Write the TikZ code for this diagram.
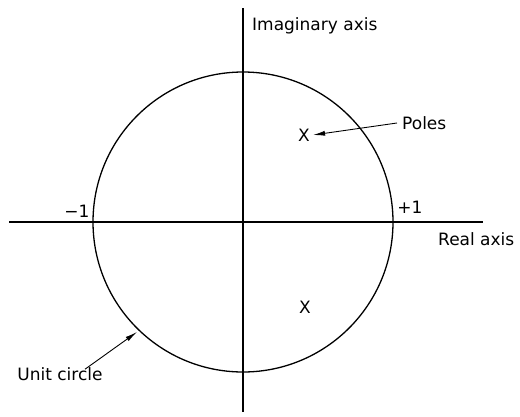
\documentclass[tikz,border=0pt]{standalone}
\usepackage{fontspec}
\setmainfont{DejaVu Sans}
\usetikzlibrary{
    positioning,
    calc,
    arrows.meta
}
\tikzset{
    eixo/.style={line width=1.5pt},
    rotulo/.style={inner sep=0pt, font=\fontsize{17}{20}\selectfont},
    polo/.style={inner sep=0pt, font=\fontsize{17}{20}\selectfont},
    seta/.style={line width=0.9pt, -{Latex[length=12pt,width=5pt]}}
}

\begin{document}
\begin{tikzpicture}[x=1pt, y=-1pt]
                \useasboundingbox (0,0) rectangle (520,416);

                \coordinate (Origem) at (243,222);
                \coordinate (ImTopo) at (243,8);
                \coordinate (ImBase) at (243,412);
                \coordinate (ReEsq) at (9,222);
                \coordinate (ReDir) at (483,222);
                \coordinate (PontoCirculo) at (137,332);

                \draw[eixo] (ReEsq) -- (ReDir);
                \draw[eixo] (ImTopo) -- (ImBase);
                \draw[line width=1.3pt] (Origem) circle[radius=150];

                \node[rotulo, anchor=west] (ImagLabel) at (252,26) {Imaginary axis};
                \node[rotulo, anchor=west] (RealLabel) at (438,239) {Real axis};
                \node[rotulo] (MaisUm) at (410,207) {+1};
                \node[rotulo] (MenosUm) at (77,211) {\textminus1};

                \node[polo] (PoloA) at (304,135) {X};
                \node[polo] (PoloB) at (305,307) {X};
                \node[rotulo, anchor=west] (PolesLabel) at (402,123) {Poles};
                \node[rotulo] (CircLabel) at (60,374) {Unit circle};

                \draw[seta] ([xshift=-5pt]PolesLabel.west) -- ([xshift=3pt]PoloA.east);
                \draw[seta] ([xshift=25pt,yshift=-2pt]CircLabel.north) -- (PontoCirculo);
            \end{tikzpicture}
\end{document}
